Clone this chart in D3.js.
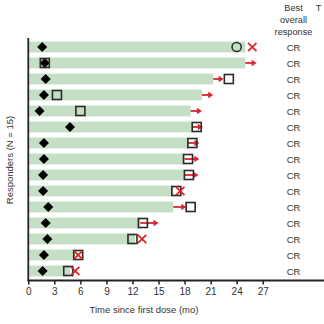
<!DOCTYPE html>
<html><head><meta charset="utf-8">
<script src="https://cdn.jsdelivr.net/npm/d3@7"></script>
<style>body{margin:0;background:#fff}svg{display:block}text{font-family:"Liberation Sans",Arial,sans-serif;fill:#333}</style>
</head><body><div id="chart"></div>
<script>
const rows = d3.range(1, 16);
const barEnd   = [25.0,25.0,21.3,20.0,18.7,18.9,18.4,18.0,18.0,16.7,16.7,12.9,12.3,5.4,4.8];
const diamondT = [1.6,1.9,2.0,1.8,1.3,4.8,1.8,1.8,1.7,1.7,2.3,2.0,2.2,1.8,1.65];
const squareT  = [null,1.9,23.1,3.3,6.0,19.4,18.9,18.4,18.5,17.05,18.7,13.2,12.0,5.75,4.6];
const circleT  = [24.0,null,null,null,null,null,null,null,null,null,null,null,null,null,null];
const crossT   = [25.8,null,null,null,null,null,null,null,null,17.5,null,null,13.1,5.75,5.4];
const arrowEnd = [null,26.3,22.5,21.3,20.0,20.1,19.7,19.7,19.6,null,18.2,15.0,null,null,null];
const response = rows.map(() => "CR");
const xTicks = [0,3,6,9,12,15,18,21,24,27];

const W = 324, H = 324;
const svg = d3.select("#chart").append("svg").attr("width", W).attr("height", H);
const x = d3.scaleLinear().domain([0, 27]).range([28.3, 262.7]);
const y = d3.scaleBand().domain(rows).range([39, 279]).paddingInner(0.32).paddingOuter(0.16);
const cy = r => y(r) + y.bandwidth() / 2;

// bars
svg.append("g").selectAll("rect").data(rows).join("rect")
  .attr("x", x(0) + 1).attr("y", r => y(r))
  .attr("width", (r, i) => x(barEnd[i]) - x(0) - 1)
  .attr("height", y.bandwidth())
  .attr("fill", "#c4dfc5");

// arrows
const red = "#d8262c";
const ag = svg.append("g");
rows.forEach((r, i) => {
  if (arrowEnd[i] == null) return;
  const x0 = x(barEnd[i]), x1 = x(arrowEnd[i]), yy = cy(r);
  ag.append("line").attr("x1", x0).attr("x2", x1 - 4).attr("y1", yy).attr("y2", yy)
    .attr("stroke", red).attr("stroke-width", 1.8);
  ag.append("path").attr("d", `M${x1},${yy}L${x1-5},${yy-3.2}L${x1-5},${yy+3.2}Z`).attr("fill", red);
});

// diamonds
svg.append("g").selectAll("path").data(rows).join("path")
  .attr("transform", (r, i) => `translate(${x(diamondT[i])},${cy(r)})`)
  .attr("d", "M0,-5L5,0L0,5L-5,0Z").attr("fill", "#000");

// squares
svg.append("g").selectAll("rect").data(rows.filter((r, i) => squareT[i] != null)).join("rect")
  .attr("x", r => x(squareT[r - 1]) - 4.5).attr("y", r => cy(r) - 4.5)
  .attr("width", 9).attr("height", 9)
  .attr("fill", "none").attr("stroke", "#2a2a2a").attr("stroke-width", 1.6);

// circles
svg.append("g").selectAll("circle").data(rows.filter((r, i) => circleT[i] != null)).join("circle")
  .attr("cx", r => x(circleT[r - 1])).attr("cy", r => cy(r)).attr("r", 4.6)
  .attr("fill", "none").attr("stroke", "#2a2a2a").attr("stroke-width", 1.5);

// crosses
const cg = svg.append("g");
rows.forEach((r, i) => {
  if (crossT[i] == null) return;
  const cx = x(crossT[i]), yy = cy(r), s = 4.2;
  cg.append("path").attr("d", `M${cx-s},${yy-s}L${cx+s},${yy+s}M${cx-s},${yy+s}L${cx+s},${yy-s}`)
    .attr("stroke", red).attr("stroke-width", 1.8).attr("fill", "none");
});

// axes
const xAxis = svg.append("g").attr("transform", "translate(0,280.5)")
  .call(d3.axisBottom(x).tickValues(xTicks).tickSize(4).tickPadding(3));
xAxis.select(".domain").remove();
xAxis.selectAll(".tick line").attr("stroke", "#222").attr("stroke-width", 1.5);
xAxis.selectAll("text").attr("font-size", 10).attr("fill", "#333")
  .attr("font-family", "Liberation Sans, Arial, sans-serif");
svg.append("line").attr("x1", 27.5).attr("x2", 324).attr("y1", 280.5).attr("y2", 280.5)
  .attr("stroke", "#222").attr("stroke-width", 1.8);
svg.append("line").attr("x1", 28.3).attr("x2", 28.3).attr("y1", 38).attr("y2", 281)
  .attr("stroke", "#222").attr("stroke-width", 1.8);

// titles
svg.append("text").attr("x", 144).attr("y", 313).attr("text-anchor", "middle")
  .attr("font-size", 9.5).text("Time since first dose (mo)");
svg.append("text").attr("transform", "translate(12.5,160) rotate(-90)").attr("text-anchor", "middle")
  .attr("font-size", 9.5).text("Responders (N = 15)");

// right column
const hx = 293.5;
[["Best", 11], ["overall", 23], ["response", 34.5]].forEach(([t, yy]) =>
  svg.append("text").attr("x", hx).attr("y", yy).attr("text-anchor", "middle").attr("font-size", 9.2).text(t));
svg.append("text").attr("x", 318.5).attr("y", 11).attr("text-anchor", "middle").attr("font-size", 9.2).text("T");
svg.append("g").selectAll("text").data(rows).join("text")
  .attr("x", hx).attr("y", r => cy(r) + 3.5).attr("text-anchor", "middle")
  .attr("font-size", 9.5).text((r, i) => response[i]);
</script></body></html>
